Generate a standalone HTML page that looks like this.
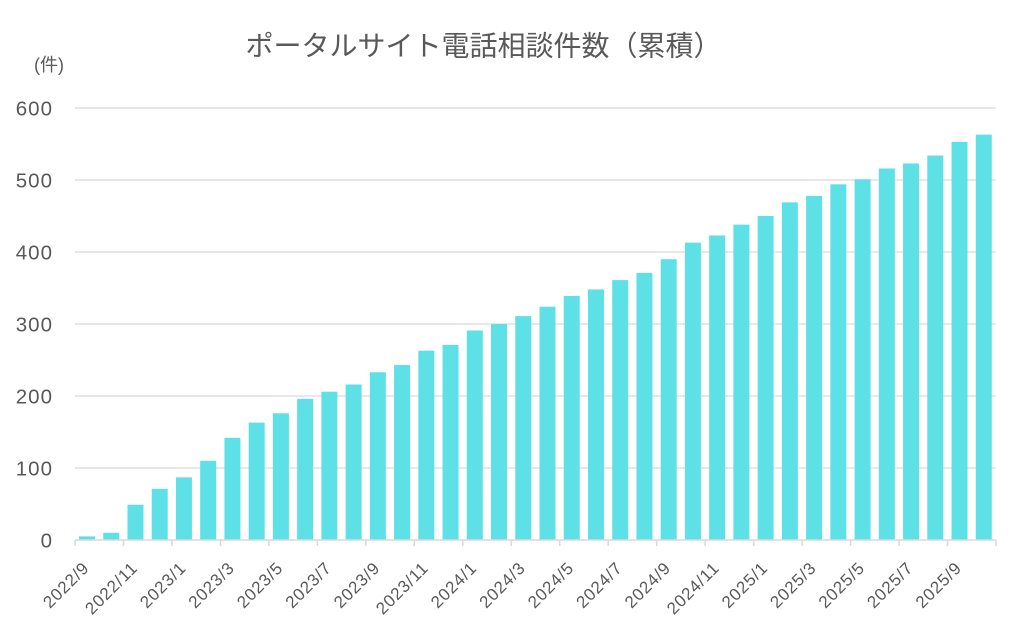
<!DOCTYPE html>
<html><head><meta charset="utf-8"><style>
html,body{margin:0;padding:0;background:#fff;}
svg{display:block;}
text{font-family:"Liberation Sans","Noto Sans CJK JP",sans-serif;fill:#595959;}
</style></head><body>
<svg id="c" width="1024" height="630" viewBox="0 0 1024 630" xmlns="http://www.w3.org/2000/svg">
<rect width="1024" height="630" fill="#fff"/>
<text x="483.5" y="46" font-size="28" text-anchor="middle" dominant-baseline="central">ポータルサイト電話相談件数（累積）</text>
<text x="34" y="65" font-size="18" dominant-baseline="central">(件)</text>
<g id="grid" stroke="#d9d9d9" stroke-width="1.3">
<line x1="75" y1="108" x2="996" y2="108"/>
<line x1="75" y1="180" x2="996" y2="180"/>
<line x1="75" y1="252" x2="996" y2="252"/>
<line x1="75" y1="324" x2="996" y2="324"/>
<line x1="75" y1="396" x2="996" y2="396"/>
<line x1="75" y1="468" x2="996" y2="468"/>
</g>
<g font-size="20.5" text-anchor="end" letter-spacing="1">
<text x="53" y="115.5">600</text>
<text x="53" y="187.5">500</text>
<text x="53" y="259.5">400</text>
<text x="53" y="331.5">300</text>
<text x="53" y="403.5">200</text>
<text x="53" y="475.5">100</text>
<text x="53" y="547.5">0</text>
</g>
<g id="bars" fill="#5ee0e7"></g>
<g id="axis" stroke="#d9d9d9" stroke-width="1.5"><line x1="75" y1="540" x2="996" y2="540"/></g>
<g id="labels" font-size="17" letter-spacing="0.8" text-anchor="end"></g>
</svg>
<script>
var vals=[5,10,49,71,87,110,142,163,176,196,206,216,233,243,263,271,291,300,311,324,339,348,361,371,390,413,423,438,450,469,478,494,501,516,523,534,553,563];
var ns="http://www.w3.org/2000/svg";
var cw=(996-75)/38;
var bars=document.getElementById("bars");
vals.forEach(function(v,k){
 var r=document.createElementNS(ns,"rect");
 var h=v*0.72;
 r.setAttribute("x",(75+cw*k+4).toFixed(2));
 r.setAttribute("y",(540-h).toFixed(2));
 r.setAttribute("width","16");
 r.setAttribute("height",h.toFixed(2));
 bars.appendChild(r);
});
var ax=document.getElementById("axis");
for(var j=0;j<=19;j++){
 var x=75+cw*2*j; if(j==19)x=996;
 var l=document.createElementNS(ns,"line");
 l.setAttribute("x1",x);l.setAttribute("x2",x);l.setAttribute("y1",540);l.setAttribute("y2",546);
 ax.appendChild(l);
}
var labs=["2022/9","2022/11","2023/1","2023/3","2023/5","2023/7","2023/9","2023/11","2024/1","2024/3","2024/5","2024/7","2024/9","2024/11","2025/1","2025/3","2025/5","2025/7","2025/9"];
var lg=document.getElementById("labels");
labs.forEach(function(s,i){
 var k=i*2;
 var x=75+cw*(k+0.5)+3, y=569;
 var t=document.createElementNS(ns,"text");
 t.setAttribute("x",x.toFixed(2));t.setAttribute("y",y);
 t.setAttribute("transform","rotate(-45 "+x.toFixed(2)+" "+y+")");
 t.textContent=s;
 lg.appendChild(t);
});
</script>
</body></html>
